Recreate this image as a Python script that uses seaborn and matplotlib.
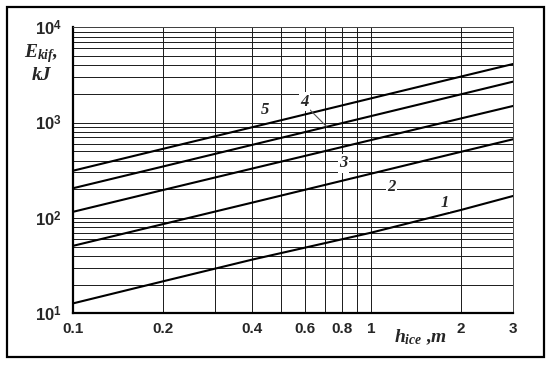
import pandas as pd
import matplotlib
matplotlib.use('Agg')
import matplotlib.pyplot as plt
import seaborn as sns
from matplotlib.patches import Rectangle
from matplotlib.ticker import NullFormatter

# values (log-log, straight lines)
h_ice = [0.1, 0.2, 0.4, 1, 2, 3]
curve1 = [12.7, 21.6, 36.6, 70, 121, 170]
curve2 = [51, 86, 145, 291, 493, 669]
curve3 = [116, 196, 330, 656, 1104, 1495]
curve4 = [205, 346, 585, 1170, 1977, 2690]
curve5 = [313, 530, 895, 1795, 3035, 4120]

curve_names = ['1', '2', '3', '4', '5']
x_ticks = [0.1, 0.2, 0.4, 0.6, 0.8, 1, 2, 3]
x_tick_labels = ['0.1', '0.2', '0.4', '0.6', '0.8', '1', '2', '3']
x_grid_extra = [0.3, 0.5, 0.7, 0.9]
y_ticks = [10, 100, 1000, 10000]
y_tick_labels = [r'$10^{1}$', r'$10^{2}$', r'$10^{3}$', r'$10^{4}$']

# label positions for the curve numbers
label_x = [1.77, 1.17, 0.81, 0.60, 0.44]
label_y = [143, 213, 374, 1660, 1358]

rows = []
for name, vals in zip(curve_names, [curve1, curve2, curve3, curve4, curve5]):
    for x, y in zip(h_ice, vals):
        rows.append({'h': x, 'E': y, 'curve': name})
df = pd.DataFrame(rows)

sns.set_style('white')
plt.rcParams['font.family'] = ['Liberation Sans', 'DejaVu Sans']
plt.rcParams['mathtext.fontset'] = 'custom'
plt.rcParams['mathtext.rm'] = 'Liberation Sans:bold'
plt.rcParams['mathtext.bf'] = 'Liberation Sans:bold'
plt.rcParams['mathtext.it'] = 'Liberation Serif:italic:bold'

fig = plt.figure(figsize=(5.5, 3.66), dpi=100)
ax = fig.add_axes([0.1327, 0.144, 0.80, 0.7814])

sns.lineplot(data=df, x='h', y='E', hue='curve', palette=['black'] * 5,
             legend=False, linewidth=1.5, ax=ax)

ax.set_xscale('log')
ax.set_yscale('log')
ax.set_xlim(0.1, 3)
ax.set_ylim(10, 10000)

ax.set_xticks(x_ticks)
ax.set_xticklabels(x_tick_labels, fontweight='bold', fontsize=11)
ax.set_xticks(x_grid_extra, minor=True)
ax.xaxis.set_minor_formatter(NullFormatter())
ax.set_yticks(y_ticks)
ax.set_yticklabels(y_tick_labels, fontsize=12)
ax.yaxis.set_minor_formatter(NullFormatter())
ax.tick_params(which='both', length=0)
ax.tick_params(axis='x', pad=6)
ax.tick_params(axis='y', pad=8)

ax.grid(True, which='both', color='#1a1a1a', linewidth=0.7)
for side in ['left', 'bottom']:
    ax.spines[side].set_linewidth(1.6)
    ax.spines[side].set_color('black')
for side in ['top', 'right']:
    ax.spines[side].set_linewidth(0.7)
    ax.spines[side].set_color('#444444')

serif = dict(family='Liberation Serif', style='italic', weight='bold')

ax.set_xlabel(r'$h_{ice}$ ,m', fontsize=14, **serif)
ax.xaxis.set_label_coords(0.79, -0.05)
ax.set_ylabel('$E_{kif}$,\nkJ', fontsize=14, rotation=0, ha='center',
              va='center', **serif)
ax.yaxis.set_label_coords(-0.072, 0.875)

for name, lx, ly in zip(curve_names, label_x, label_y):
    ax.text(lx, ly, name, fontsize=12, ha='center', va='center', **serif,
            bbox=dict(facecolor='white', edgecolor='none', pad=1))

# leader line from label 4 to its curve
ax.plot([0.625, 0.711], [1358, 906], color='#555555', linewidth=0.8)

fig.patches.append(Rectangle((0.013, 0.024), 0.976, 0.957, transform=fig.transFigure,
                             fill=False, edgecolor='black', linewidth=1.6))

fig.savefig('out.png', dpi=100)
